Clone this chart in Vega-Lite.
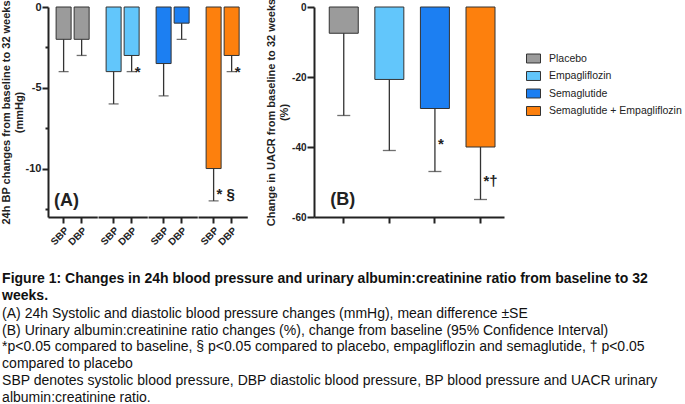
{
  "$schema": "https://vega.github.io/schema/vega-lite/v6.json",
  "background": "white",
  "padding": {"left": 0, "top": -2, "right": 0, "bottom": 0},
  "config": {
    "view": {"stroke": null},
    "font": "Liberation Sans",
    "axis": {
      "grid": false,
      "domainColor": "#222",
      "domainWidth": 2,
      "tickColor": "#222",
      "tickWidth": 2,
      "labelFont": "Liberation Sans",
      "labelFontWeight": "bold",
      "labelColor": "#222",
      "titleFont": "Liberation Sans",
      "titleFontWeight": "bold",
      "titleColor": "#222"
    }
  },
  "title": {
    "text": ["Figure 1: Changes in 24h blood pressure and urinary albumin:creatinine ratio from baseline to 32", "weeks."],
    "subtitle": [
      "(A) 24h Systolic and diastolic blood pressure changes (mmHg), mean difference ±SE",
      "(B) Urinary albumin:creatinine ratio changes (%), change from baseline (95% Confidence Interval)",
      "*p<0.05 compared to baseline, § p<0.05 compared to placebo, empagliflozin and semaglutide, † p<0.05",
      "compared to placebo",
      "SBP denotes systolic blood pressure, DBP diastolic blood pressure, BP blood pressure and UACR urinary",
      "albumin:creatinine ratio."
    ],
    "orient": "bottom",
    "anchor": "start",
    "frame": "bounds",
    "offset": 25,
    "dx": 2,
    "font": "Liberation Sans",
    "fontSize": 14,
    "fontWeight": "bold",
    "lineHeight": 16.8,
    "color": "#111",
    "subtitleFont": "Liberation Sans",
    "subtitleFontSize": 14,
    "subtitleFontWeight": "normal",
    "subtitleLineHeight": 16.8,
    "subtitleColor": "#111",
    "subtitlePadding": 4
  },
  "spacing": 17,
  "resolve": {"scale": {"color": "independent"}, "legend": {"color": "independent"}},
  "hconcat": [
    {
      "data": {
        "values": [
          {"group": "Placebo", "measure": "SBP", "value": -2, "err": -4, "note": "", "noteY": null},
          {"group": "Placebo", "measure": "DBP", "value": -2, "err": -3, "note": "", "noteY": null},
          {"group": "Empagliflozin", "measure": "SBP", "value": -4, "err": -6, "note": "", "noteY": null},
          {"group": "Empagliflozin", "measure": "DBP", "value": -3, "err": -4, "note": "*", "noteY": -4},
          {"group": "Semaglutide", "measure": "SBP", "value": -3.5, "err": -5.5, "note": "", "noteY": null},
          {"group": "Semaglutide", "measure": "DBP", "value": -1, "err": -2, "note": "", "noteY": null},
          {"group": "Semaglutide + Empagliflozin", "measure": "SBP", "value": -10, "err": -12, "note": "* §", "noteY": -11.6},
          {"group": "Semaglutide + Empagliflozin", "measure": "DBP", "value": -3, "err": -4, "note": "*", "noteY": -4}
        ]
      },
      "facet": {
        "column": {
          "field": "group",
          "type": "nominal",
          "sort": ["Placebo", "Empagliflozin", "Semaglutide", "Semaglutide + Empagliflozin"],
          "title": null,
          "header": {"labels": false, "title": null}
        }
      },
      "spacing": 0,
      "spec": {
        "width": 49.25,
        "height": 210,
        "encoding": {
          "x": {
            "field": "measure",
            "type": "nominal",
            "sort": ["SBP", "DBP"],
            "scale": {"paddingInner": 0.167, "paddingOuter": 0.45},
            "axis": {"title": null, "labelAngle": -45, "labelFontSize": 10, "tickSize": 6, "labelPadding": 2}
          }
        },
        "layer": [
          {
            "mark": {"type": "bar", "size": 15, "stroke": "#333", "strokeWidth": 1},
            "encoding": {
              "y": {
                "field": "value",
                "type": "quantitative",
                "scale": {"domain": [-13, 0], "nice": false},
                "axis": {
                  "title": ["24h BP changes from baseline to 32 weeks", "(mmHg)"],
                  "titleFontSize": 11,
                  "titleLineHeight": 13,
                  "titlePadding": 1,
                  "values": [0, -2.5, -5, -7.5, -10, -12.5],
                  "labelExpr": "datum.value % 5 === 0 ? '' + datum.value : ''",
                  "labelFontSize": 11,
                  "labelPadding": 1,
                  "tickSize": {"condition": {"test": "datum.value % 5 === 0", "value": 6}, "value": 3}
                }
              },
              "color": {
                "field": "group",
                "type": "nominal",
                "scale": {
                  "domain": ["Placebo", "Empagliflozin", "Semaglutide", "Semaglutide + Empagliflozin"],
                  "range": ["#9b9b9b", "#62c6fb", "#1c7ff2", "#fd800d"]
                },
                "legend": null
              }
            }
          },
          {
            "mark": {"type": "rule", "color": "#333", "strokeWidth": 1.3},
            "encoding": {
              "y": {"field": "value", "type": "quantitative"},
              "y2": {"field": "err"}
            }
          },
          {
            "mark": {"type": "tick", "color": "#333", "thickness": 1.3, "size": 10},
            "encoding": {"y": {"field": "err", "type": "quantitative"}}
          },
          {
            "mark": {"type": "text", "align": "left", "baseline": "middle", "dx": 3, "fontSize": 15, "fontWeight": "bold", "color": "#222"},
            "encoding": {
              "y": {"field": "noteY", "type": "quantitative"},
              "text": {"field": "note"}
            }
          },
          {
            "transform": [{"filter": "datum.group === 'Placebo' && datum.measure === 'SBP'"}],
            "mark": {"type": "text", "align": "left", "baseline": "middle", "dx": -2, "fontSize": 18, "fontWeight": "bold", "color": "#222", "text": "(A)"},
            "encoding": {
              "x": {"datum": "SBP", "bandPosition": 0},
              "y": {"datum": -12}
            }
          }
        ]
      }
    },
    {
      "data": {
        "values": [
          {"group": "Placebo", "value": -7.5, "err": -31, "note": "", "noteY": null},
          {"group": "Empagliflozin", "value": -20.7, "err": -41, "note": "", "noteY": null},
          {"group": "Semaglutide", "value": -29, "err": -47, "note": "*", "noteY": -39.2},
          {"group": "Semaglutide + Empagliflozin", "value": -40, "err": -55, "note": "*†", "noteY": -49.6}
        ]
      },
      "width": 190,
      "height": 210,
      "encoding": {
        "x": {
          "field": "group",
          "type": "nominal",
          "sort": ["Placebo", "Empagliflozin", "Semaglutide", "Semaglutide + Empagliflozin"],
          "scale": {"paddingInner": 0.36, "paddingOuter": 0.264, "align": 0.63},
          "axis": {"title": null, "labels": false, "tickSize": 6}
        }
      },
      "layer": [
        {
          "mark": {"type": "bar", "size": 29, "stroke": "#333", "strokeWidth": 1},
          "encoding": {
            "y": {
              "field": "value",
              "type": "quantitative",
              "scale": {"domain": [-60, 0], "nice": false},
              "axis": {
                "title": ["Change in UACR from baseline to 32 weeks", "(%)"],
                "titleFontSize": 11,
                "titleLineHeight": 13,
                "titlePadding": 2,
                "values": [0, -10, -20, -30, -40, -50, -60],
                "labelExpr": "datum.value % 20 === 0 ? '' + datum.value : ''",
                "labelFontSize": 10,
                "labelPadding": 1,
                "tickSize": {"condition": {"test": "datum.value % 20 === 0", "value": 7}, "value": 3}
              }
            },
            "color": {
              "field": "group",
              "type": "nominal",
              "scale": {
                "domain": ["Placebo", "Empagliflozin", "Semaglutide", "Semaglutide + Empagliflozin"],
                "range": ["#9b9b9b", "#62c6fb", "#1c7ff2", "#fd800d"]
              },
              "legend": {
                "orient": "none",
                "legendX": 212,
                "legendY": 44,
                "title": null,
                "symbolType": "M-1,-0.64H1V0.64H-1Z",
                "symbolSize": 196,
                "symbolStrokeColor": "#333",
                "symbolStrokeWidth": 1,
                "symbolOpacity": 1,
                "labelFont": "Liberation Sans",
                "labelFontSize": 10.5,
                "labelColor": "#222",
                "labelOffset": 8,
                "rowPadding": 3.5
              }
            }
          }
        },
        {
          "mark": {"type": "rule", "color": "#333", "strokeWidth": 1.3},
          "encoding": {
            "y": {"field": "value", "type": "quantitative"},
            "y2": {"field": "err"}
          }
        },
        {
          "mark": {"type": "tick", "color": "#333", "thickness": 1.3, "size": 13},
          "encoding": {"y": {"field": "err", "type": "quantitative"}}
        },
        {
          "mark": {"type": "text", "align": "left", "baseline": "middle", "dx": 3, "fontSize": 15, "fontWeight": "bold", "color": "#222"},
          "encoding": {
            "y": {"field": "noteY", "type": "quantitative"},
            "text": {"field": "note"}
          }
        },
        {
          "transform": [{"filter": "datum.group === 'Placebo'"}],
          "mark": {"type": "text", "align": "left", "baseline": "middle", "dx": 1, "fontSize": 18, "fontWeight": "bold", "color": "#222", "text": "(B)"},
          "encoding": {
            "x": {"datum": "Placebo", "bandPosition": 0},
            "y": {"datum": -55}
          }
        }
      ]
    }
  ]
}
